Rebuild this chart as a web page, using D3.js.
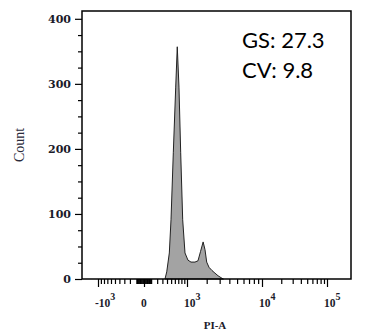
<!DOCTYPE html>
<html>
<head>
<meta charset="utf-8">
<script src="https://cdn.jsdelivr.net/npm/d3@7"></script>
<style>
  body { margin: 0; background: #fff; }
</style>
</head>
<body>
<div id="chart"></div>
<script>
// histogram: PI-A channel value vs count
const pi_a = [355, 394, 455, 497, 557, 624, 670, 722, 777, 844, 925, 1038, 1163, 1345, 1495, 1628, 1780, 1893, 2000, 2155, 2370, 2600, 2855, 3130, 3355];
const counts = [0, 11, 40, 91, 194, 295, 357, 295, 194, 91, 40, 29, 26, 26, 28, 42, 57, 45, 26, 18, 13, 9, 5, 2, 0];

const x_major = [-1000, 0, 1000, 10000, 100000];
const x_labels = [['-10', '3'], ['0', ''], ['10', '3'], ['10', '4'], ['10', '5']];
const y_major = [0, 100, 200, 300, 400];
const stats = ['GS: 27.3', 'CV: 9.8'];

const chart_width = 368;
const chart_height = 330;
const plot_left = 82, plot_right = 351, plot_top = 11, plot_bottom = 279;

const svg = d3.select('#chart')
    .append('svg')
    .attr('width', chart_width)
    .attr('height', chart_height);

// biexponential-ish x scale, piecewise through the decade ticks
const x_scale = d3.scaleSymlog()
    .constant(500)
    .domain([-1700, -1000, 0, 1000, 1e4, 1e5, 234000])
    .range([plot_left, 98, 144, 187, 262, 327, plot_right]);

const y_scale = d3.scaleLinear()
    .domain([0, 412])
    .range([plot_bottom, plot_top]);

// minor ticks
const x_minor = [];
[10, 100].forEach(d => {
    for (let k = 1; k <= 9; k++) x_minor.push(-k * d);
});
[10, 100, 1000, 10000].forEach(d => {
    for (let k = 1; k <= 9; k++) if (k > 1 || d < 1000) x_minor.push(k * d);
});
const y_minor = d3.range(0, 401, 25).filter(v => v % 100 !== 0);

// area
const area = d3.area()
    .x((d, i) => x_scale(pi_a[i]))
    .y0(y_scale(0))
    .y1(d => y_scale(d));

svg.append('path')
    .datum(counts)
    .attr('d', area)
    .attr('fill', '#a3a3a3')
    .attr('stroke', '#222')
    .attr('stroke-width', 1);

// y axis
const y_axis = svg.append('g')
    .attr('transform', `translate(${plot_left},0)`)
    .call(d3.axisLeft(y_scale).tickValues(y_major).tickSize(7).tickPadding(4).tickSizeOuter(0));
svg.append('g')
    .attr('transform', `translate(${plot_left},0)`)
    .call(d3.axisLeft(y_scale).tickValues(y_minor).tickSize(4).tickFormat('').tickSizeOuter(0));

// x axis
svg.append('g')
    .attr('transform', `translate(0,${plot_bottom})`)
    .call(d3.axisBottom(x_scale).tickValues(x_major).tickSize(8).tickFormat('').tickSizeOuter(0));
svg.append('g')
    .attr('transform', `translate(0,${plot_bottom})`)
    .call(d3.axisBottom(x_scale).tickValues(x_minor).tickSize(5).tickFormat('').tickSizeOuter(0));

svg.selectAll('.domain').remove();
svg.selectAll('.tick line').attr('stroke', '#000').attr('stroke-width', 1.2);

y_axis.selectAll('text')
    .attr('font-family', 'DejaVu Serif')
    .attr('font-size', 11)
    .attr('font-weight', 'bold')
    .attr('fill', '#1b1b2a');

// x tick labels with superscript exponents
const x_text = svg.selectAll('.xlabel')
    .data(x_major)
    .enter()
    .append('text')
    .attr('class', 'xlabel')
    .attr('x', d => x_scale(d) - 3)
    .attr('y', 307)
    .attr('font-family', 'Liberation Serif')
    .attr('font-size', 11.5)
    .attr('font-weight', 'bold')
    .attr('fill', '#1b1b2a');
x_text.append('tspan').text((d, i) => x_labels[i][0]);
x_text.append('tspan')
    .attr('dy', -7)
    .attr('font-size', 10)
    .text((d, i) => x_labels[i][1]);

// frame
svg.append('rect')
    .attr('x', plot_left)
    .attr('y', plot_top)
    .attr('width', plot_right - plot_left)
    .attr('height', plot_bottom - plot_top)
    .attr('fill', 'none')
    .attr('stroke', '#000')
    .attr('stroke-width', 1.5);

// axis titles
svg.append('text')
    .attr('transform', 'translate(24,145) rotate(-90)')
    .attr('text-anchor', 'middle')
    .attr('font-family', 'Liberation Serif')
    .attr('font-size', 14)
    .attr('fill', '#2a2a3a')
    .text('Count');

svg.append('text')
    .attr('x', 215)
    .attr('y', 329)
    .attr('text-anchor', 'middle')
    .attr('font-family', 'Liberation Serif')
    .attr('font-size', 11)
    .attr('font-weight', 'bold')
    .attr('fill', '#1b1b2a')
    .text('PI-A');

// stats
svg.selectAll('.stat')
    .data(stats)
    .enter()
    .append('text')
    .attr('class', 'stat')
    .attr('x', 242)
    .attr('y', (d, i) => 48 + i * 30)
    .attr('font-family', 'Lato')
    .attr('font-size', 22)
    .attr('fill', '#000')
    .text(d => d);
</script>
</body>
</html>
